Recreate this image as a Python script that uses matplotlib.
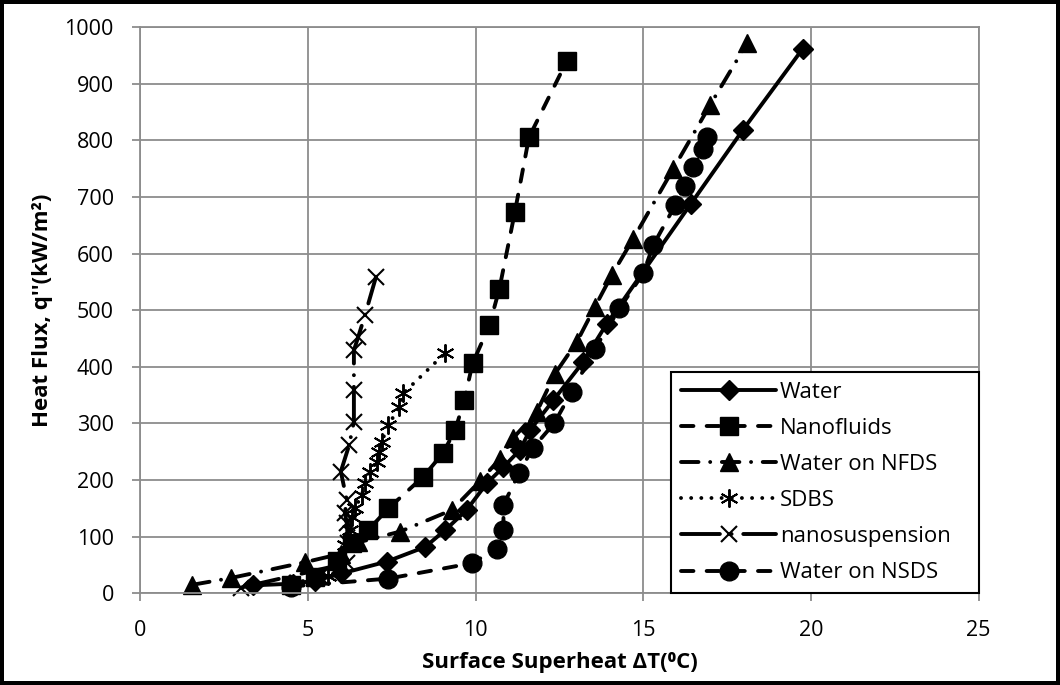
import numpy as np
import matplotlib
matplotlib.use('Agg')
import matplotlib.pyplot as plt


# data (dT in C, q'' in kW/m2)
water_x = [3.35, 4.55, 5.2, 6.0, 7.35, 8.5, 9.1, 9.73, 10.33, 10.83, 11.32, 11.62, 12.32, 13.2, 13.91, 16.41, 17.98, 19.76]
water_y = [14, 17, 22, 35, 56, 82, 112, 147, 194, 223, 253, 288, 341, 408, 476, 687, 819, 962]

nano_x = [4.5, 5.2, 5.86, 6.3, 6.8, 7.4, 8.44, 9.02, 9.39, 9.66, 9.91, 10.41, 10.71, 11.17, 11.59, 12.72]
nano_y = [15, 28, 57, 88, 112, 150, 206, 247, 288, 341, 406, 473, 538, 673, 805, 940]

nfds_x = [1.55, 2.7, 4.92, 6.0, 6.5, 7.75, 9.29, 10.13, 10.73, 11.12, 11.82, 12.37, 13.02, 13.56, 14.06, 14.7, 15.9, 16.99, 18.09]
nfds_y = [15, 27, 55, 70, 90, 109, 147, 198, 238, 274, 320, 388, 444, 506, 562, 626, 750, 862, 971]

sdbs_x = [5.6, 5.9, 6.1, 6.25, 6.3, 6.4, 6.6, 6.7, 6.85, 7.05, 7.13, 7.2, 7.4, 7.72, 7.84, 9.09]
sdbs_y = [30, 55, 85, 112, 135, 150, 173, 194, 215, 232, 250, 268, 297, 329, 353, 424]

susp_x = [3.0, 6.16, 6.19, 6.16, 6.1, 6.16, 5.98, 6.23, 6.37, 6.37, 6.37, 6.5, 6.7, 7.03]
susp_y = [10, 53, 89, 124, 142, 164, 215, 262, 303, 359, 429, 453, 491, 559]

nsds_x = [4.5, 7.4, 9.88, 10.65, 10.83, 10.83, 11.29, 11.7, 12.34, 12.87, 13.56, 14.29, 15.0, 15.3, 15.95, 16.24, 16.49, 16.79, 16.89]
nsds_y = [12, 26, 53, 79, 112, 156, 212, 256, 300, 356, 432, 503, 565, 615, 685, 720, 753, 785, 806]

plt.rcParams['font.family'] = ['Open Sans', 'DejaVu Sans']

fig = plt.figure(figsize=(10.6, 6.85), dpi=100, linewidth=5.5, edgecolor='black')
ax = fig.add_axes([140.3 / 1060, 1 - 593.3 / 685, 838.3 / 1060, 566.3 / 685])

lw = 2.8
common = dict(color='black', linewidth=lw, clip_on=False,
              dash_capstyle='round', solid_capstyle='round')

ax.plot(water_x, water_y, marker='D', markersize=10, label='Water', **common)
ax.plot(nano_x, nano_y, marker='s', markersize=13, linestyle=(0, (3.2, 3.4)),
        label='Nanofluids', **common)
ax.plot(nfds_x, nfds_y, marker='^', markersize=13, linestyle=(0, (4.5, 3, 0.01, 3)),
        label='Water on NFDS', **common)
ax.plot(sdbs_x, sdbs_y, marker=(6, 2, 0), markersize=13, markeredgewidth=1.4,
        linestyle=(0, (0.01, 2.6)), label='SDBS', **common)
ax.plot(susp_x, susp_y, marker='x', markersize=12, markeredgewidth=1.5,
        linestyle=(0, (10, 3, 0.01, 3)), label='nanosuspension', **common)
ax.plot(nsds_x, nsds_y, marker='o', markersize=13.5, linestyle=(0, (3.2, 3.4)),
        label='Water on NSDS', **common)

ax.set_xlim(0, 25)
ax.set_ylim(0, 1000)
ax.set_xticks(np.arange(0, 26, 5))
ax.set_yticks(np.arange(0, 1001, 100))

grid_col = '#8c8c8c'
ax.grid(True, color=grid_col, linewidth=1.3)
ax.set_axisbelow(True)
for s in ax.spines.values():
    s.set_color(grid_col)
    s.set_linewidth(1.3)
ax.tick_params(colors='black', labelsize=15.5, length=6, width=1.3,
               color=grid_col, pad=13)

ax.set_xlabel('Surface Superheat \u0394T(\u2070C)', fontsize=16, fontweight='bold', labelpad=8)
ax.set_ylabel("Heat Flux, q''(kW/m\u00b2)", fontsize=16, fontweight='bold', labelpad=8)

leg = ax.legend(loc='lower left', bbox_to_anchor=(0.633, 0.0, 0.367, 0.384),
                mode='expand', borderaxespad=0, fontsize=16, handlelength=4.3,
                handletextpad=0.15, labelspacing=0.68, borderpad=0.45,
                fancybox=False, framealpha=1, edgecolor='black')
leg.get_frame().set_linewidth(1.5)

fig.savefig('out.png', dpi=100)
